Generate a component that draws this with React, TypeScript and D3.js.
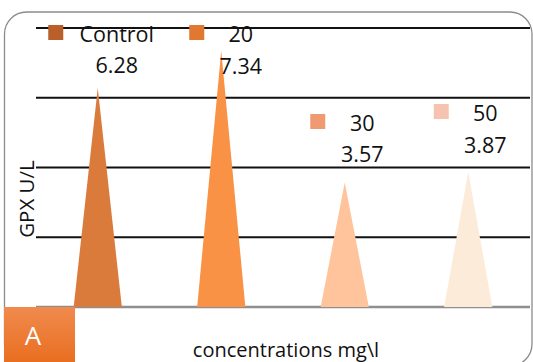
import React from "react";
import * as d3 from "d3";

const categories = ["Control", "20", "30", "50"];
const values = [6.28, 7.34, 3.57, 3.87];
const yTicks = [2, 4, 6, 8];
const triangleColors = ["#DA7B3B", "#F99244", "#FFC49B", "#FDEBD9"];
const legendColors = ["#B9602A", "#E0782F", "#F09A72", "#F5C3B0"];
const yTitle = "GPX U/L";
const xTitle = "concentrations mg\\l";
const panelLetter = "A";

// label layout offsets relative to bar center / bar top
const labelDx = [19, 19.5, 17.5, 17];
const labelDy = [-46, -9, -51.5, -51];
const squareDx = [-49.5, -32, -34.5, -34.5];

const W = 533;
const H = 362;
const FONT = "'Open Sans', 'Liberation Sans', sans-serif";

export default function App() {
  const x = d3.scaleBand<string>().domain(categories).range([36, 530]);
  const y = d3.scaleLinear().domain([0, 8]).range([307, 28]);
  const half = x.bandwidth() * 0.195;
  const tri = (c: string, v: number) => {
    const cx = (x(c) as number) + x.bandwidth() / 2;
    const p = d3.path();
    p.moveTo(cx - half, y(0));
    p.lineTo(cx, y(v));
    p.lineTo(cx + half, y(0));
    p.closePath();
    return p.toString();
  };
  return (
    <svg
      width={W}
      height={H}
      style={{ position: "absolute", left: 0, top: 0 }}
      fontFamily={FONT}
    >
      <defs>
        <linearGradient id="abox" x1="0" y1="0" x2="0" y2="1">
          <stop offset="0" stopColor="#F08A4E" />
          <stop offset="1" stopColor="#E86C1C" />
        </linearGradient>
      </defs>
      <rect x={0} y={0} width={W} height={H} fill="#fff" />
      <rect
        x={4.5}
        y={12}
        width={527.5}
        height={354}
        rx={22}
        ry={22}
        fill="#fff"
        stroke="#8C8C8C"
        strokeWidth={1.3}
      />
      {yTicks.map((t) => (
        <line
          key={t}
          x1={36}
          x2={530}
          y1={y(t)}
          y2={y(t)}
          stroke="#111"
          strokeWidth={2.2}
        />
      ))}
      <line x1={36} x2={530} y1={y(0)} y2={y(0)} stroke="#8F8F8F" strokeWidth={2.6} />
      {categories.map((c, i) => (
        <path key={c} d={tri(c, values[i])} fill={triangleColors[i]} />
      ))}
      {categories.map((c, i) => {
        const cx = (x(c) as number) + x.bandwidth() / 2;
        const lx = cx + labelDx[i];
        const ly = y(values[i]) + labelDy[i];
        return (
          <g key={c}>
            <rect
              x={cx + squareDx[i]}
              y={ly - 17}
              width={15}
              height={15}
              fill={legendColors[i]}
            />
            <text x={lx} y={ly} textAnchor="middle" fontSize={21.5} fill="#111">
              {c}
            </text>
            <text x={lx} y={ly + 31.5} textAnchor="middle" fontSize={21.5} fill="#111">
              {values[i].toFixed(2)}
            </text>
          </g>
        );
      })}
      <text
        transform={`translate(34,199) rotate(-90)`}
        textAnchor="middle"
        fontSize={20.5}
        fill="#111"
      >
        {yTitle}
      </text>
      <text x={286} y={357} textAnchor="middle" fontSize={20} fill="#111">
        {xTitle}
      </text>
      <rect x={4} y={307} width={71} height={60} fill="url(#abox)" />
      <text x={33} y={345} textAnchor="middle" fontSize={26} fill="#fff">
        {panelLetter}
      </text>
    </svg>
  );
}
